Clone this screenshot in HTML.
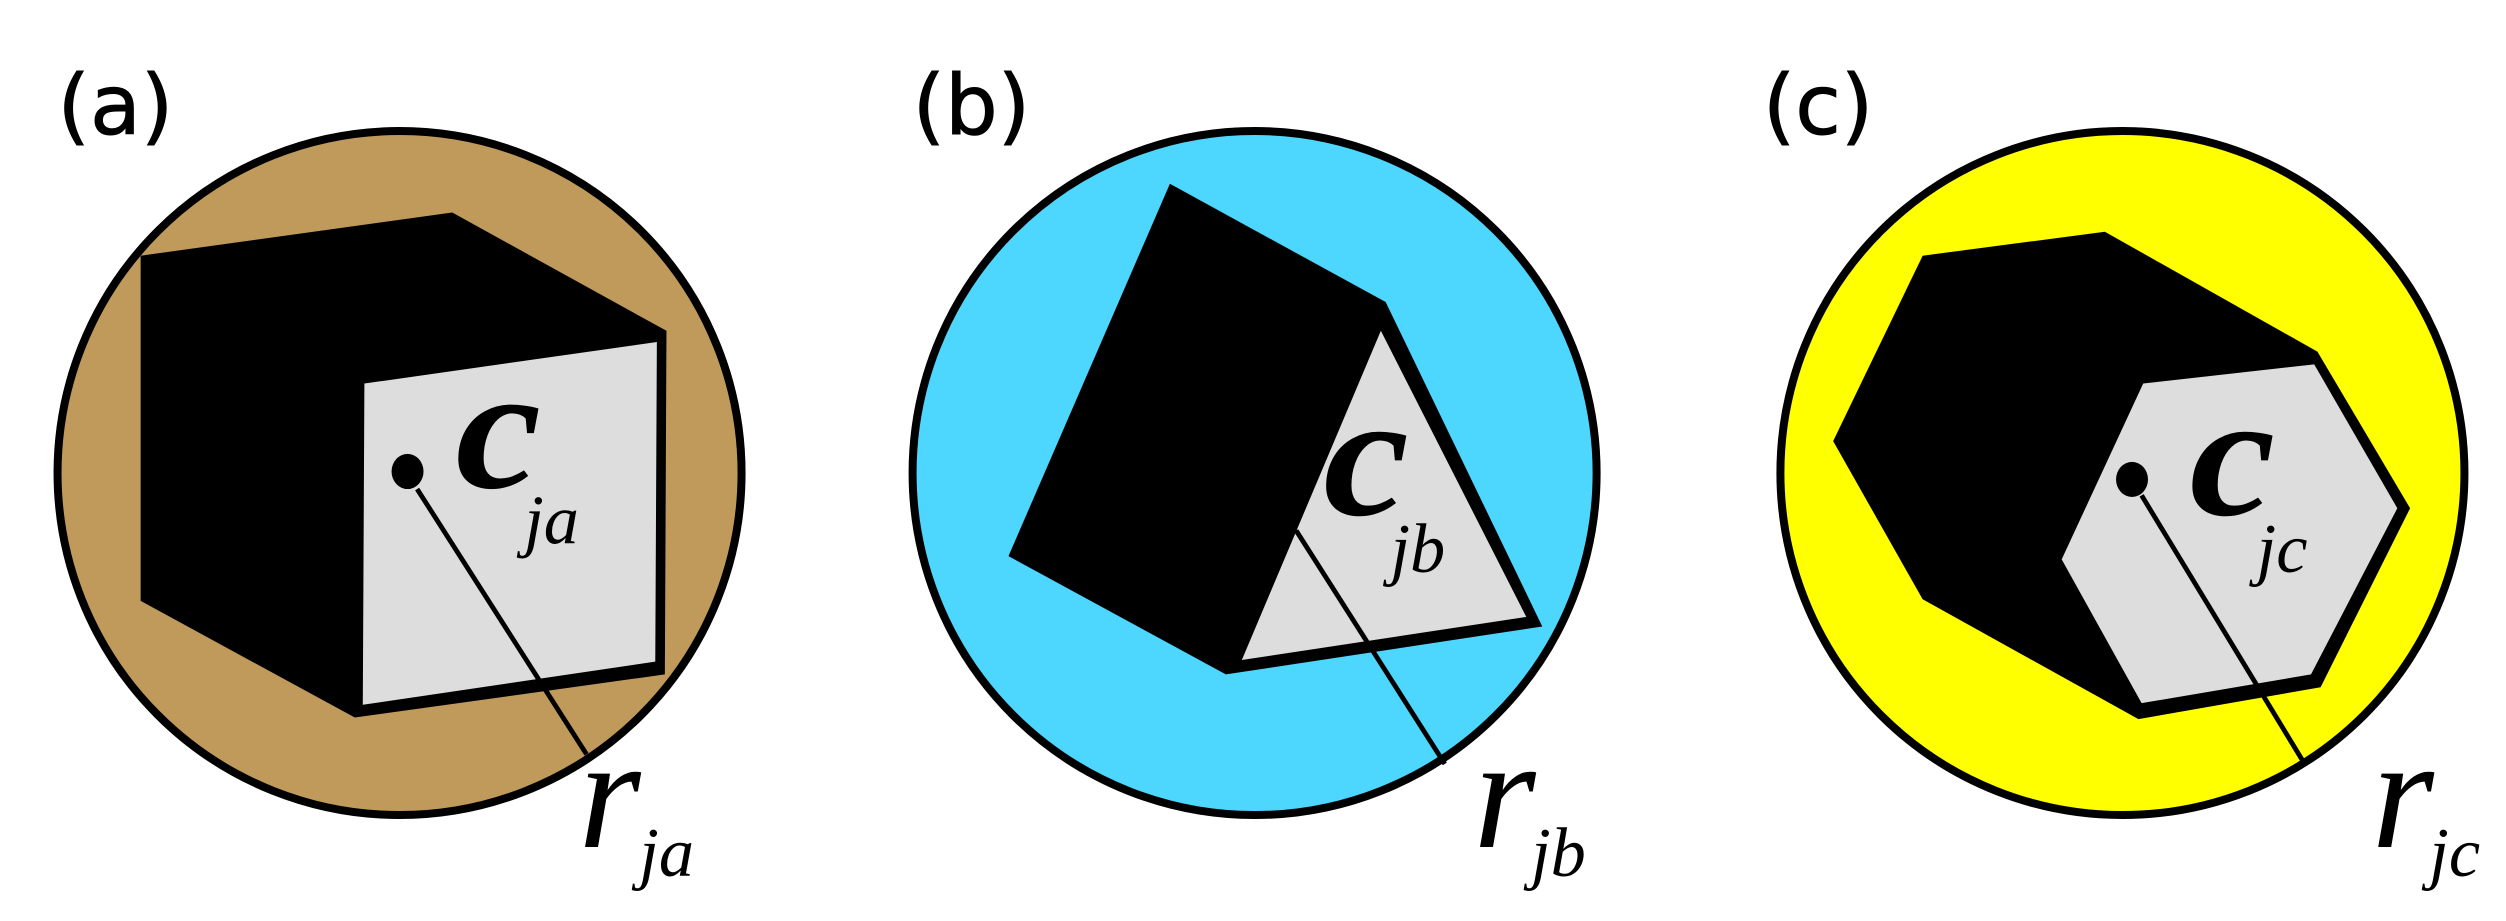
<!DOCTYPE html>
<html><head><style>html,body{margin:0;padding:0;background:#fff;}svg{display:block}</style></head>
<body>
<svg width="2506" height="921" viewBox="0 0 1568 576.3" preserveAspectRatio="none" xmlns="http://www.w3.org/2000/svg">
<g font-family="'DejaVu Sans','Liberation Sans',sans-serif" font-size="52" fill="#000" stroke="#000" stroke-width="0.6">
<text x="36" y="84">(a)</text>
<text x="571" y="84">(b)</text>
<text x="1103" y="84">(c)</text>
</g>
<!-- panel a -->
<circle cx="250" cy="296" r="214" fill="#BF9A5A" stroke="#000" stroke-width="5"/>
<polygon points="88,160 283,133 417,207 416,422 222,449 88,376" fill="#000"/>
<polygon points="228,240 411,214 410,414 227,441" fill="#DDDDDD"/>
<ellipse cx="255" cy="295" rx="10" ry="11" fill="#000"/>
<line x1="261" y1="306" x2="367" y2="472" stroke="#000" stroke-width="3"/>
<!-- panel b -->
<circle cx="785" cy="296" r="214" fill="#4DD6FE" stroke="#000" stroke-width="5"/>
<polygon points="732,115 867,189 965,392 767,422 631,348" fill="#000"/>
<polygon points="864,207 955,386 777,413" fill="#DDDDDD"/>
<line x1="811" y1="332" x2="904" y2="478" stroke="#000" stroke-width="3"/>
<!-- panel c -->
<circle cx="1328" cy="296" r="214" fill="#FFFF00" stroke="#000" stroke-width="5"/>
<polygon points="1203,160 1317,145 1450,220 1508,318 1452,430 1338,450 1203,375 1147,276" fill="#000"/>
<polygon points="1341,240 1448,228 1500,318 1446,422 1340,440 1290,350" fill="#DDDDDD"/>
<ellipse cx="1334" cy="300" rx="10" ry="11" fill="#000"/>
<line x1="1340" y1="310" x2="1442" y2="478" stroke="#000" stroke-width="3"/>
<g font-family="'Liberation Serif',serif" font-style="italic" fill="#000">
<text x="285" y="305" font-size="110" font-weight="bold" transform="translate(285 305) scale(1.1 1) translate(-285 -305)">c</text>
<text x="328" y="340" font-size="44">ja</text>
<text x="828" y="322" font-size="110" font-weight="bold" transform="translate(828 322) scale(1.1 1) translate(-828 -322)">c</text>
<text x="870" y="358" font-size="44">jb</text>
<text x="1370" y="322" font-size="110" font-weight="bold" transform="translate(1370 322) scale(1.1 1) translate(-1370 -322)">c</text>
<text x="1412" y="358" font-size="44">jc</text>
<text x="362" y="530" font-size="100">r</text>
<text x="400" y="548" font-size="44">ja</text>
<text x="922" y="530" font-size="100">r</text>
<text x="958" y="548" font-size="44">jb</text>
<text x="1484" y="530" font-size="100">r</text>
<text x="1520" y="548" font-size="44">jc</text>
</g>
</svg>
</body></html>
